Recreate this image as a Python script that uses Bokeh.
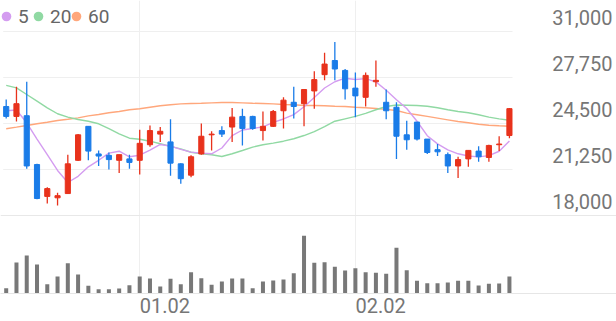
from bokeh.plotting import figure
from bokeh.models import (ColumnDataSource, Range1d, LinearAxis, FixedTicker, Grid,
                          Span, Legend, LegendItem)
from bokeh.core.properties import value
from bokeh.embed import file_html
from bokeh.resources import INLINE

# ---------------- data ----------------
open_ = [25700, 25000, 25050, 21600, 19350, 19250, 19550, 21900, 24300, 22350,
         22250, 21900, 22000, 21900, 23000, 23750, 23200, 21650, 20850, 22350,
         23700, 24000, 24250, 25000, 25000, 24000, 24300, 25400, 26000, 25900,
         26800, 27950, 28950, 28250, 27000, 26350, 27450, 26000, 25650, 23700,
         24600, 23400, 22650, 22300, 21500, 22000, 22550, 22100, 23000, 23650]
high = [26200, 27100, 27450, 21650, 20000, 19600, 22300, 23750, 24300, 22600,
        22450, 22300, 22300, 24050, 24350, 24250, 24800, 21700, 22250, 24500,
        23950, 24300, 25600, 25550, 25050, 25350, 25450, 26350, 27100, 26900,
        28200, 29500, 30250, 28350, 28100, 28100, 28950, 26900, 26000, 24700,
        24600, 23400, 23050, 22450, 22150, 22600, 22900, 23000, 23600, 25600]
low = [24850, 24650, 21300, 19150, 18850, 18700, 19550, 21850, 21900, 21500,
       21250, 21000, 21300, 20900, 22850, 23200, 20800, 20250, 20700, 22300,
       22600, 23550, 23200, 22950, 24050, 23300, 24250, 24150, 24850, 24300,
       25550, 27550, 27550, 26200, 24950, 25700, 27100, 24800, 22000, 22650,
       23300, 22350, 22200, 21000, 20650, 21450, 21800, 21800, 22550, 23450]
close = [25000, 25900, 21500, 19200, 19900, 19400, 21650, 23700, 22550, 22200,
         21950, 22300, 21750, 23100, 24000, 23950, 21700, 20600, 22150, 23600,
         23750, 23750, 24950, 24150, 24150, 24300, 25350, 26150, 25700, 26900,
         27600, 28700, 28350, 26950, 26450, 27900, 27550, 25400, 23600, 23350,
         23400, 22450, 22500, 21500, 21950, 22600, 22150, 22950, 23050, 25550]
volume = [160, 930, 1140, 870, 280, 510, 910, 570, 230, 130,
          130, 150, 250, 510, 450, 210, 440, 280, 640, 460,
          260, 360, 450, 450, 160, 360, 390, 420, 610, 1730,
          920, 940, 800, 690, 760, 640, 620, 590, 1370, 700,
          380, 310, 310, 330, 380, 380, 240, 290, 300, 510]
ma5 = [25400, 25450, 24550, 23400, 22300, 21180, 20330, 20770, 21440, 21900,
       22410, 22540, 22150, 22260, 22620, 23020, 22900, 22670, 22480, 22400,
       22360, 22770, 23640, 24040, 24150, 24260, 24580, 24820, 25130, 25680,
       26340, 27010, 27450, 27700, 27610, 27670, 27440, 26850, 26180, 25560,
       24660, 23640, 23060, 22640, 22360, 22200, 22140, 22230, 22540, 23260]
ma20 = [27190, 27020, 26550, 26080, 25610, 25190, 24950, 24780, 24660, 24480,
        24130, 23770, 23460, 23390, 23250, 23070, 22880, 22710, 22470, 22360,
        22290, 22170, 22360, 22590, 22830, 23000, 23110, 23250, 23420, 23650,
        23930, 24280, 24660, 24830, 25000, 25220, 25470, 25700, 25810, 25790,
        25770, 25720, 25610, 25470, 25350, 25260, 25120, 24950, 24830, 24730]
ma60 = [24130, 24240, 24360, 24480, 24590, 24710, 24800, 24900, 25040, 25140,
        25260, 25350, 25470, 25540, 25650, 25750, 25820, 25890, 25910, 25930,
        25960, 25980, 25980, 25960, 25930, 25910, 25890, 25840, 25820, 25770,
        25770, 25750, 25720, 25700, 25650, 25610, 25560, 25500, 25420, 25230,
        25120, 25000, 24880, 24760, 24640, 24550, 24450, 24380, 24340, 24310]
ma_labels = ["5", "20", "60"]
price_ticks = [18000, 21250, 24500, 27750, 31000]
date_ticks = [13, 34]
date_labels = ["01.02", "02.02"]

# ---------------- styles ----------------
RED, BLUE = "#e8321c", "#1a7ce8"
MA_COLORS = ["#d49cf0", "#90d9a3", "#ffa77c"]
GRID = "#efefef"
TEXT = "#767676"
FONT = "Roboto"

W, H = 616, 321
FRAME_H = 293
PX = 10.27                      # pixels per candle
x_start = -5.7 / PX
x_end = x_start + W / PX
ppx = (31000 - 18000) / 184.0   # price units per pixel
y_end = 31000 + 31 * ppx
y_start = y_end - FRAME_H * ppx
VOL_PER_PX = 30.0
DATE_SHIFT = 2.45
LEGEND_X = [-6, 26, 64]         # pixel offsets of the legend entries

n = len(close)
xs = list(range(n))
colors = [RED if c >= o else BLUE for o, c in zip(open_, close)]
src = ColumnDataSource(dict(
    x=xs, open=open_, high=high, low=low, close=close,
    top=[max(o, c) for o, c in zip(open_, close)],
    bottom=[min(o, c) for o, c in zip(open_, close)],
    color=colors, volume=volume, ma5=ma5, ma20=ma20, ma60=ma60))

p = figure(width=W, height=H, x_range=Range1d(x_start, x_end),
           y_range=Range1d(y_start, y_end), output_backend="svg",
           toolbar_location=None, x_axis_location=None, y_axis_location=None,
           min_border_left=0, min_border_right=0, min_border_top=0,
           min_border_bottom=H - FRAME_H, outline_line_color=None,
           background_fill_color="white", border_fill_color="white")
p.grid.visible = False

# vertical date grid
p.add_layout(Grid(dimension=0, ticker=FixedTicker(ticks=date_ticks),
                  grid_line_color=GRID, grid_line_width=1))

# horizontal price grid (only in the price pane)
p.segment(x0=-0.29, x1=49.3, y0=price_ticks[1:], y1=price_ticks[1:],
          line_color=GRID, line_width=1)
p.add_layout(Span(location=price_ticks[0], dimension="width",
                  line_color="#e8e8e8", line_width=1))

# date axis (labels left-aligned to their grid line)
p.extra_x_ranges = {"dates": Range1d(x_start - DATE_SHIFT, x_end - DATE_SHIFT)}
xa = LinearAxis(x_range_name="dates", ticker=FixedTicker(ticks=date_ticks),
                major_label_overrides={t: l for t, l in zip(date_ticks, date_labels)},
                major_tick_out=0, major_tick_in=0, minor_tick_out=0, minor_tick_in=0,
                axis_line_color="#e6e6e6", major_label_standoff=4,
                major_label_text_font=FONT, major_label_text_font_size="20px",
                major_label_text_color=TEXT)
p.add_layout(xa, "below")

# volume
p.extra_y_ranges = {"vol": Range1d(0, FRAME_H * VOL_PER_PX)}
p.vbar(x="x", top="volume", bottom=0, width=0.39, y_range_name="vol",
       fill_color="#787878", line_color=None, source=src)

# moving averages
ma_cols = ["ma5", "ma20", "ma60"]
for col, c in list(zip(ma_cols, MA_COLORS))[::-1]:
    p.line("x", col, source=src, line_color=c, line_width=1.4)

# candles
p.segment(x0="x", x1="x", y0="high", y1="low", line_color="color",
          line_width=1.3, source=src)
p.vbar(x="x", top="top", bottom="bottom", width=0.5, fill_color="color",
       line_color="color", line_width=1, source=src)

# price labels
p.text(x=[x_end] * len(price_ticks), y=price_ticks,
       text=["{:,}".format(t) for t in price_ticks],
       x_offset=-4, y_offset=-14, text_align="right", text_baseline="middle",
       text_font=value(FONT), text_font_size="20px", text_color=TEXT)

# legend: zero-size markers on the MA series provide the coloured dots
leg_r = [p.scatter(x="x", y=col, source=src, size=0, fill_color=c, line_color=None)
         for col, c in zip(ma_cols, MA_COLORS)]
for lx, lab, r in zip(LEGEND_X, ma_labels, leg_r):
    legend = Legend(items=[LegendItem(label=lab, renderers=[r], index=0)],
                    orientation="horizontal", location=(lx, 265), padding=0, margin=0,
                    spacing=0, glyph_width=24, glyph_height=24, label_standoff=-2,
                    label_width=0, label_text_font=FONT, label_text_font_size="19px",
                    label_text_color="#666666", background_fill_alpha=0,
                    border_line_color=None)
    p.add_layout(legend)

open("out.html", "w").write(file_html(p, INLINE))
